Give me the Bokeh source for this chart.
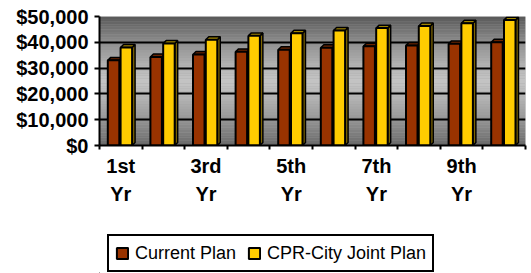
from bokeh.plotting import figure
from bokeh.layouts import column
from bokeh.models import (FixedTicker, NumeralTickFormatter, BoxAnnotation,
                          Legend, LegendItem, ColumnDataSource)
from bokeh.embed import file_html
from bokeh.resources import INLINE

# ---- data ----
years = ["1st Yr", "2nd Yr", "3rd Yr", "4th Yr", "5th Yr",
         "6th Yr", "7th Yr", "8th Yr", "9th Yr", "10th Yr"]
current_plan = [33000, 34300, 35300, 36300, 37100, 37900, 38500, 38800, 39400, 40000]
joint_plan = [38000, 39500, 41000, 42500, 43500, 44600, 45500, 46300, 47400, 48600]
series_names = ["Current Plan", "CPR-City Joint Plan"]
y_ticks = [0, 10000, 20000, 30000, 40000, 50000]

# ---- style ----
face_colors = ["#993300", "#FFCC00"]
side_colors = ["#4c1900", "#7f6600"]
top_colors = ["#6b2400", "#a08500"]
offsets = [-0.17, 0.13]
bar_w = 0.27
depth_x = 0.07
depth_y = 1150
FONT = "Liberation Sans"

p = figure(width=531, height=230, output_backend="svg", toolbar_location=None,
           x_range=(0.5, len(years) + 0.5), y_range=(0, 50000),
           min_border_left=99, min_border_right=6, min_border_top=16,
           min_border_bottom=85)
p.outline_line_color = None
p.background_fill_color = "#a0a0a0"
p.border_fill_color = "white"

# gradient back wall (decoration)
n_bands = 50
for i in range(n_bands):
    t0 = i / n_bands
    t = (i + 0.5) / n_bands
    if t >= 0.5:
        c = 0xc4 - (0xc4 - 0x58) * ((t - 0.5) / 0.5) ** 1.3
    else:
        c = 0xc4 - (0xc4 - 0x68) * ((0.5 - t) / 0.5) ** 1.3
    c = int(round(c))
    col = "#%02x%02x%02x" % (c, c, c)
    p.add_layout(BoxAnnotation(bottom=t0 * 50000, top=(i + 1) / n_bands * 50000,
                               fill_color=col, fill_alpha=1.0, line_color=None,
                               level="image"))

x_idx = list(range(1, len(years) + 1))
series_vals = [current_plan, joint_plan]
for s, vals in enumerate(series_vals):
    xs = [x + offsets[s] for x in x_idx]
    side_xs, side_ys, top_xs, top_ys = [], [], [], []
    for x, v in zip(xs, vals):
        r = x + bar_w / 2
        l = x - bar_w / 2
        side_xs.append([r, r + depth_x, r + depth_x, r])
        side_ys.append([0, depth_y, v + depth_y, v])
        top_xs.append([l, l + depth_x, r + depth_x, r])
        top_ys.append([v, v + depth_y, v + depth_y, v])
    p.patches(side_xs, side_ys, fill_color=side_colors[s], line_color="black",
              line_width=1.5)
    p.patches(top_xs, top_ys, fill_color=top_colors[s], line_color="black",
              line_width=1.5)
    src = ColumnDataSource(dict(x=xs, top=vals))
    p.vbar(x="x", top="top", width=bar_w, bottom=0, source=src,
           fill_color=face_colors[s], line_color="black", line_width=2)

# grid
p.xgrid.visible = False
p.ygrid.ticker = FixedTicker(ticks=y_ticks[1:-1])
p.ygrid.grid_line_color = "black"
p.ygrid.grid_line_width = 2

# y axis
p.yaxis.ticker = FixedTicker(ticks=y_ticks)
p.yaxis.formatter = NumeralTickFormatter(format="$0,0")
p.yaxis.axis_line_color = "black"
p.yaxis.axis_line_width = 2
p.yaxis.major_tick_line_color = "black"
p.yaxis.major_tick_line_width = 2
p.yaxis.major_tick_out = 5
p.yaxis.major_tick_in = 0
p.yaxis.minor_tick_line_color = None
p.yaxis.major_label_standoff = 6
p.yaxis.major_label_text_font = FONT
p.yaxis.major_label_text_font_style = "bold"
p.yaxis.major_label_text_font_size = "20px"
p.yaxis.major_label_text_color = "black"

# x axis
odd = [i for i in x_idx if i % 2 == 1]
p.xaxis.ticker = FixedTicker(ticks=odd, minor_ticks=[i + 0.5 for i in range(0, len(years) + 1)])
p.xaxis.major_label_overrides = {i: years[i - 1].replace(" ", "\n") for i in odd}
p.xaxis.axis_line_color = "black"
p.xaxis.axis_line_width = 2
p.xaxis.major_tick_line_color = None
p.xaxis.major_tick_out = 0
p.xaxis.minor_tick_line_color = "black"
p.xaxis.minor_tick_line_width = 2
p.xaxis.minor_tick_out = 4
p.xaxis.minor_tick_in = 0
p.xaxis.major_label_standoff = 5
p.xaxis.major_label_text_font = FONT
p.xaxis.major_label_text_font_style = "bold"
p.xaxis.major_label_text_font_size = "20px"
p.xaxis.major_label_text_color = "black"
p.xaxis.major_label_text_line_height = 1.3

# ---- legend strip (stand-in glyphs sit outside its view; only the legend shows) ----
p2 = figure(width=531, height=43, output_backend="svg", toolbar_location=None,
            x_axis_type=None, y_axis_type=None, min_border=0,
            x_range=(1, 2), y_range=(1, 2))
p2.outline_line_color = None
p2.grid.visible = False
leg_renderers = []
for s in range(2):
    leg_renderers.append(p2.vbar(x=[0.0], top=[0.0], bottom=[0.0], width=0.0,
                                 fill_color=face_colors[s],
                                 line_color="black", line_width=2))
legend = Legend(items=[LegendItem(label=series_names[i], renderers=[leg_renderers[i]])
                       for i in range(2)],
                orientation="horizontal", location=(8, 1))
legend.border_line_color = "black"
legend.border_line_alpha = 1.0
legend.border_line_width = 2
legend.background_fill_color = "white"
legend.background_fill_alpha = 1.0
legend.padding = 6
legend.spacing = 11
legend.margin = 0
legend.label_standoff = 6
legend.glyph_width = 14
legend.glyph_height = 14
legend.label_height = 22
legend.label_text_font = FONT
legend.label_text_font_size = "18px"
legend.label_text_color = "black"
p2.add_layout(legend)

layout = column(p, p2, spacing=0)
open("out.html", "w").write(file_html(layout, INLINE))
